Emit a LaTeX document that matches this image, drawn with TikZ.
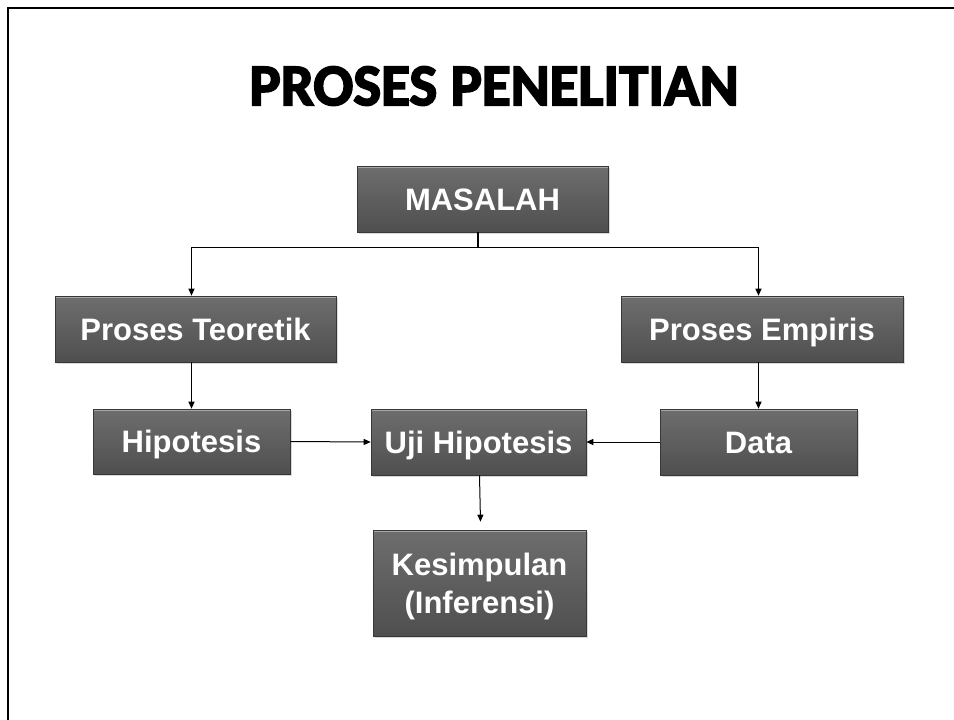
\documentclass[tikz,border=0pt]{standalone}
\usepackage{fontspec}
\setmainfont{Liberation Sans}
\newfontfamily\titlefont{Carlito}[BoldFeatures={FakeBold=3}]
\usetikzlibrary{shadows,arrows.meta}
\begin{document}
\begin{tikzpicture}[x=1pt,y=-1pt,
  box/.style={draw=black!78, line width=0.6pt, top color=black!57, bottom color=black!69,
    text=white, font=\fontsize{31}{38}\selectfont\bfseries, inner sep=0pt, align=center,
    text height=22.3pt, text depth=0pt,
    drop shadow={shadow xshift=1.5pt, shadow yshift=-2pt, opacity=0.3},
    path picture={\draw[black!35, line width=1.4pt]
      ([yshift=-1.6pt]path picture bounding box.north west) --
      ([yshift=-1.6pt]path picture bounding box.north east);}},
  arr/.style={-{Triangle[length=7pt,width=6pt]}, line width=1pt},
  conn/.style={line width=1.6pt}]
\useasboundingbox (0,0) rectangle (954,720);
\draw[line width=2.4pt] (8,721) -- (8,8) -- (955,8);
\node[font=\titlefont\bfseries\fontsize{59}{60}\selectfont, inner sep=0pt] (title) at (494,86) {PROSES PENELITIAN};
\node[box, minimum width=251pt, minimum height=66pt] (mas) at (482.5,199) {MASALAH};
\node[box, minimum width=281pt, minimum height=66pt] (pt) at (195.5,329) {Proses Teoretik};
\node[box, minimum width=282pt, minimum height=66pt] (pe) at (762,329) {Proses Empiris};
\node[box, minimum width=197pt, minimum height=65pt] (hip) at (191.5,441.5) {Hipotesis};
\node[box, minimum width=215pt, minimum height=66pt] (uji) at (478.5,442) {Uji Hipotesis};
\node[box, minimum width=197pt, minimum height=66pt] (data) at (758.5,442) {Data};
\node[box, text height=, minimum width=213pt, minimum height=106pt] (kes) at (479.5,583) {Kesimpulan\\(Inferensi)};
\coordinate (j) at ([xshift=-4.5pt]mas.south);
\coordinate (j2) at ([yshift=-15pt]j);
\coordinate (jl) at (hip.north |- j2);
\coordinate (jr) at (data.north |- j2);
\draw[conn] (j) -- (j2);
\draw[conn] (jl) -- (jr);
\draw[arr] (jl) -- (hip.north |- pt.north);
\draw[arr] (jr) -- (data.north |- pe.north);
\draw[arr] (hip.north |- pt.south) -- (hip.north);
\draw[arr] (data.north |- pe.south) -- (data.north);
\draw[arr] (hip.east) -- (uji.west);
\draw[arr] (data.west) -- (uji.east);
\draw[arr] ([xshift=1pt]uji.south) -- ([xshift=1pt,yshift=8pt]kes.north);
\end{tikzpicture}
\end{document}
